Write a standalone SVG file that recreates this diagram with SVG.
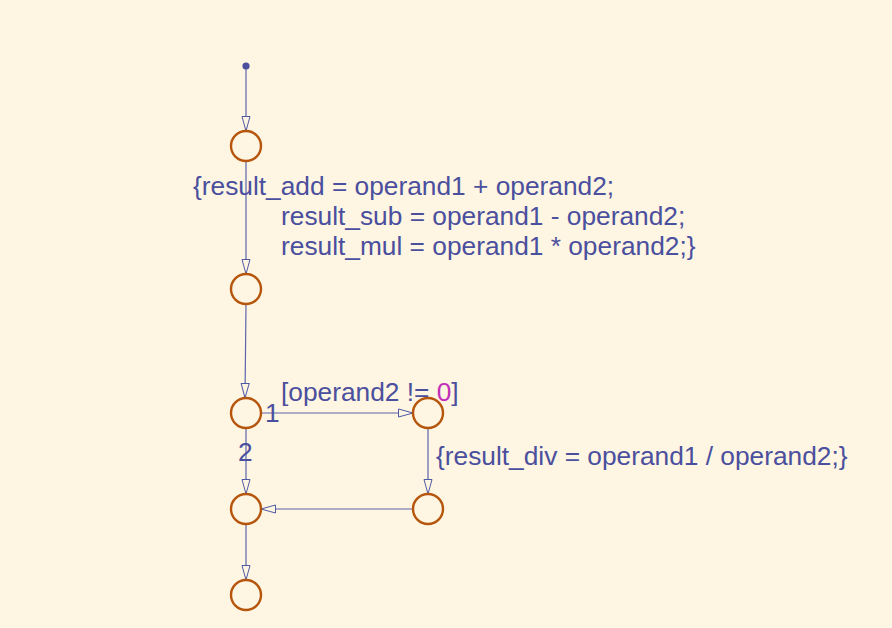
<svg xmlns="http://www.w3.org/2000/svg" width="892" height="628" viewBox="0 0 892 628">
<defs>
<marker id="arr" viewBox="0 0 15 10" refX="15" refY="5" markerWidth="15" markerHeight="10" markerUnits="userSpaceOnUse" orient="auto">
<path d="M0.5,1 L15,5 L0.5,9 Z" fill="#FEF5E2" stroke="#4F5AA5" stroke-width="1"/>
</marker>
<style>
.st{fill:none;stroke:#B5560C;stroke-width:2.4}
.tr{fill:none;stroke:#5A65AC;stroke-width:1.2;marker-end:url(#arr)}
.lb{font-family:"Liberation Sans",Arial,sans-serif;font-size:26.3px;fill:#4A4F9E}
</style>
</defs>
<rect width="892" height="628" fill="#FEF5E2"/>
<g id="connectors">
<path class="tr" d="M246,66 L246,131"/>
<path class="tr" d="M246,161 L246,274"/>
<path class="tr" d="M246,304 L245,398"/>
<path class="tr" d="M261,413 L413,413"/>
<path class="tr" d="M246,428 L246,494"/>
<path class="tr" d="M428,428 L428,494"/>
<path class="tr" d="M413,509 L261,509"/>
<path class="tr" d="M246,524 L246,580"/>
</g>
<g id="default">
<circle cx="246" cy="66" r="3.6" fill="#4A4F9E"/>
</g>
<g id="n1"><circle class="st" cx="246" cy="146" r="15"/></g>
<g id="n2"><circle class="st" cx="246" cy="289" r="15"/></g>
<g id="n3"><circle class="st" cx="246" cy="413" r="15"/></g>
<g id="n4"><circle class="st" cx="428" cy="413" r="15"/></g>
<g id="n5"><circle class="st" cx="246" cy="509" r="15"/></g>
<g id="n6"><circle class="st" cx="428" cy="509" r="15"/></g>
<g id="n7"><circle class="st" cx="246" cy="595" r="15"/></g>
<g id="labels">
<text class="lb" x="193" y="195">{result_add = operand1 + operand2;</text>
<text class="lb" x="281" y="225">result_sub = operand1 - operand2;</text>
<text class="lb" x="281" y="255">result_mul = operand1 * operand2;}</text>
<text class="lb" x="281" y="401">[operand2 != <tspan fill="#C030B8">0</tspan>]</text>
<text class="lb" x="265" y="422">1</text>
<text class="lb" x="238" y="461">2</text>
<text class="lb" x="436" y="465">{result_div = operand1 / operand2;}</text>
</g>
</svg>
